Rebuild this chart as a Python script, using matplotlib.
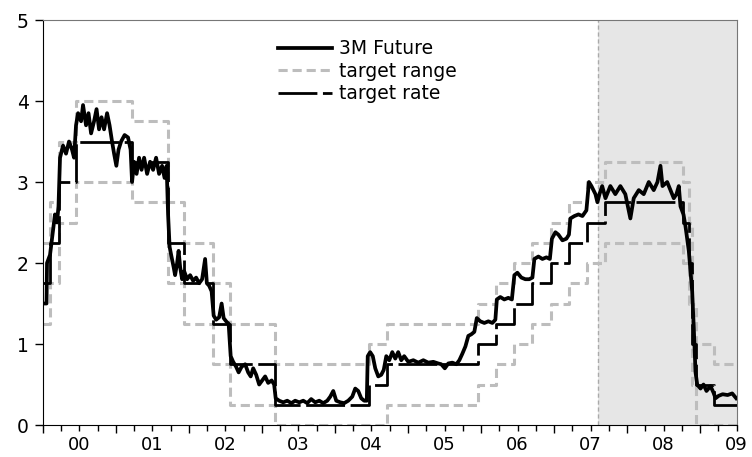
import numpy as np
import matplotlib.pyplot as plt
from matplotlib.ticker import FixedLocator, FixedFormatter

# SNB policy: dates of range changes (decimal years) and levels
change_dates = [2000.0, 2000.093, 2000.224, 2000.454, 2001.22, 2001.72, 2001.934,
                2002.334, 2002.566, 2003.178, 2004.46, 2004.708, 2005.953, 2006.205,
                2006.455, 2006.703, 2006.952, 2007.203, 2007.452, 2007.70, 2008.77,
                2008.85, 2008.888, 2008.945, 2009.192]
range_low = [1.25, 1.75, 2.5, 3.0, 2.75, 1.75, 1.25, 0.75, 0.25, 0.0,
             0.0, 0.25, 0.5, 0.75, 1.0, 1.25, 1.5, 1.75, 2.0, 2.25,
             2.0, 1.5, 0.5, 0.0, 0.0]
range_high = [2.25, 2.75, 3.5, 4.0, 3.75, 2.75, 2.25, 1.75, 1.25, 0.75,
              1.0, 1.25, 1.5, 1.75, 2.0, 2.25, 2.5, 2.75, 3.0, 3.25,
              3.0, 2.5, 1.5, 1.0, 0.75]
target_rate = [1.75, 2.25, 3.0, 3.5, 3.25, 2.25, 1.75, 1.25, 0.75, 0.25,
               0.5, 0.75, 1.0, 1.25, 1.5, 1.75, 2.0, 2.25, 2.5, 2.75,
               2.5, 2.0, 1.0, 0.5, 0.25]
end_date = 2009.5

# 3M future
fut_t = [0.004, 0.052, 0.059, 0.10, 0.141, 0.168, 0.196, 0.216, 0.237, 0.278,
         0.319, 0.360, 0.401, 0.429, 0.456, 0.484, 0.525, 0.552, 0.593, 0.627,
         0.662, 0.703, 0.737, 0.771, 0.805, 0.840, 0.881, 0.915, 0.949, 0.977,
         1.008, 1.038, 1.073, 1.121, 1.168, 1.203, 1.223, 1.251, 1.285, 1.319,
         1.353, 1.388, 1.429, 1.47, 1.511, 1.552, 1.593, 1.634, 1.668, 1.696,
         1.716, 1.737, 1.758, 1.792, 1.812, 1.840, 1.860, 1.881, 1.908, 1.936,
         1.977, 2.018, 2.059, 2.100, 2.141, 2.182, 2.223, 2.247, 2.278, 2.312,
         2.340, 2.374, 2.415, 2.449, 2.477, 2.511, 2.545, 2.573, 2.607, 2.647,
         2.682, 2.723, 2.771, 2.812, 2.847, 2.881, 2.922, 2.963, 3.004, 3.045,
         3.086, 3.134, 3.168, 3.189, 3.237, 3.292, 3.347, 3.403, 3.456, 3.511,
         3.566, 3.621, 3.675, 3.73, 3.785, 3.84, 3.895, 3.936, 3.977, 4.018,
         4.073, 4.127, 4.182, 4.237, 4.278, 4.319, 4.36, 4.401, 4.436, 4.449,
         4.482, 4.518, 4.552, 4.593, 4.634, 4.668, 4.703, 4.744, 4.785, 4.826,
         4.866, 4.908, 4.948, 5.004, 5.073, 5.141, 5.21, 5.278, 5.347, 5.414,
         5.456, 5.504, 5.552, 5.607, 5.662, 5.703, 5.744, 5.786, 5.826, 5.867,
         5.908, 5.942, 5.99, 6.045, 6.1, 6.155, 6.196, 6.216, 6.264, 6.318,
         6.373, 6.422, 6.456, 6.497, 6.552, 6.606, 6.660, 6.703, 6.73, 6.785,
         6.84, 6.895, 6.942, 6.97, 7.018, 7.059, 7.114, 7.168, 7.203, 7.223,
         7.278, 7.333, 7.388, 7.442, 7.477, 7.511, 7.566, 7.593, 7.621, 7.658,
         7.703, 7.77, 7.838, 7.907, 7.975, 8.044, 8.09, 8.159, 8.227, 8.296,
         8.364, 8.415, 8.456, 8.484, 8.548, 8.593, 8.638, 8.675, 8.707, 8.73,
         8.771, 8.799, 8.844, 8.867, 8.89, 8.912, 8.936, 8.959, 9.004, 9.045,
         9.086, 9.141, 9.182, 9.21, 9.252, 9.307, 9.375, 9.438, 9.493]
fut_v = [1.50, 1.50, 2.0, 2.1, 2.4, 2.6, 2.5, 2.7, 3.3, 3.45,
         3.35, 3.5, 3.4, 3.3, 3.7, 3.85, 3.75, 3.95, 3.7, 3.85,
         3.6, 3.75, 3.9, 3.65, 3.8, 3.65, 3.85, 3.7, 3.5, 3.35,
         3.2, 3.4, 3.5, 3.58, 3.55, 3.4, 3.0, 3.25, 3.1, 3.3,
         3.15, 3.3, 3.1, 3.25, 3.15, 3.3, 3.1, 3.2, 3.05, 3.2,
         2.6, 2.2, 2.1, 1.95, 1.85, 2.0, 2.15, 1.95, 1.8, 1.9,
         1.8, 1.85, 1.78, 1.82, 1.75, 1.8, 2.05, 1.75, 1.72, 1.65,
         1.35, 1.3, 1.33, 1.5, 1.32, 1.28, 1.25, 0.85, 0.78, 0.72,
         0.65, 0.72, 0.75, 0.65, 0.6, 0.7, 0.62, 0.5, 0.55, 0.6,
         0.52, 0.55, 0.5, 0.33, 0.3, 0.28, 0.3, 0.27, 0.3, 0.28,
         0.3, 0.27, 0.32, 0.28, 0.3, 0.27, 0.3, 0.35, 0.42, 0.3,
         0.28, 0.27, 0.3, 0.35, 0.45, 0.42, 0.33, 0.3, 0.3, 0.85,
         0.9, 0.85, 0.7, 0.6, 0.62, 0.68, 0.85, 0.8, 0.9, 0.82,
         0.9, 0.8, 0.85, 0.78, 0.8, 0.77, 0.8, 0.77, 0.78, 0.76,
         0.75, 0.7, 0.76, 0.77, 0.75, 0.8, 0.88, 0.97, 1.1, 1.12,
         1.15, 1.32, 1.28, 1.26, 1.28, 1.26, 1.3, 1.55, 1.58, 1.55,
         1.57, 1.55, 1.85, 1.88, 1.82, 1.8, 1.8, 1.82, 2.05, 2.08,
         2.05, 2.07, 2.05, 2.3, 2.38, 2.35, 2.28, 2.3, 2.35, 2.55,
         2.58, 2.6, 2.58, 2.65, 3.0, 2.95, 2.85, 2.75, 2.85, 2.95,
         2.8, 2.95, 2.85, 2.95, 2.85, 2.55, 2.8, 2.9, 2.85, 3.0,
         2.9, 3.0, 3.2, 2.95, 3.0, 2.9, 2.8, 2.85, 2.95, 2.7,
         2.6, 2.45, 2.15, 1.9, 1.65, 1.2, 0.65, 0.5, 0.45, 0.5,
         0.42, 0.48, 0.4, 0.33, 0.36, 0.38, 0.37, 0.39, 0.33]
fut_t = [2000 + t for t in fut_t]

crisis_start = 2007.605
year_labels = ['00', '01', '02', '03', '04', '05', '06', '07', '08', '09']

fig = plt.figure(figsize=(7.52, 4.57), dpi=100)
ax = fig.add_axes([0.0568, 0.070, 0.9229, 0.8862])

ax.axvspan(crisis_start, end_date, color='#e6e6e6', lw=0, zorder=0)
ax.axvline(crisis_start, color='#aaaaaa', lw=1, ls=(0, (3, 2)), zorder=1)

steps_t = change_dates + [end_date]
gray = '#bdbdbd'
ax.step(steps_t, range_high + [range_high[-1]], where='post', color=gray, lw=2.2,
        dashes=(3, 1.6), label='target range', zorder=2)
ax.step(steps_t, range_low + [range_low[-1]], where='post', color=gray, lw=2.2,
        dashes=(3, 1.6), zorder=2)
ax.step(steps_t, target_rate + [target_rate[-1]], where='post', color='black', lw=2.0,
        dashes=(14, 2), label='target rate', zorder=3)
ax.plot(fut_t, fut_v, color='black', lw=2.7, label='3M Future', zorder=4)

ax.set_xlim(2000, end_date)
ax.set_ylim(0, 5)

ax.xaxis.set_major_locator(FixedLocator(np.arange(2000, 2010)))
ax.xaxis.set_major_formatter(FixedFormatter([''] * 10))
quarters = [2000 + q / 4 for q in range(39) if q % 4 != 0]
qlabels = [year_labels[int(q - 2000)] if abs(q % 1 - 0.5) < 1e-6 else '' for q in quarters]
ax.xaxis.set_minor_locator(FixedLocator(quarters))
ax.xaxis.set_minor_formatter(FixedFormatter(qlabels))
ax.tick_params(axis='x', which='major', length=6, width=1, direction='out')
ax.tick_params(axis='x', which='minor', length=4, width=1, direction='out',
               labelsize=13, pad=4)
ax.set_yticks(range(6))
ax.tick_params(axis='y', length=6, width=1, labelsize=13.5, pad=4)

for s in ['top', 'right']:
    ax.spines[s].set_color('#777777')

handles, labels = ax.get_legend_handles_labels()
order = [labels.index('3M Future'), labels.index('target range'), labels.index('target rate')]
ax.legend([handles[i] for i in order], [labels[i] for i in order],
          loc='upper left', bbox_to_anchor=(0.339, 0.952), frameon=False,
          fontsize=13.5, handlelength=2.9, handletextpad=0.35, labelspacing=0.18,
          borderpad=0, borderaxespad=0)

plt.savefig('out.png', dpi=100)
